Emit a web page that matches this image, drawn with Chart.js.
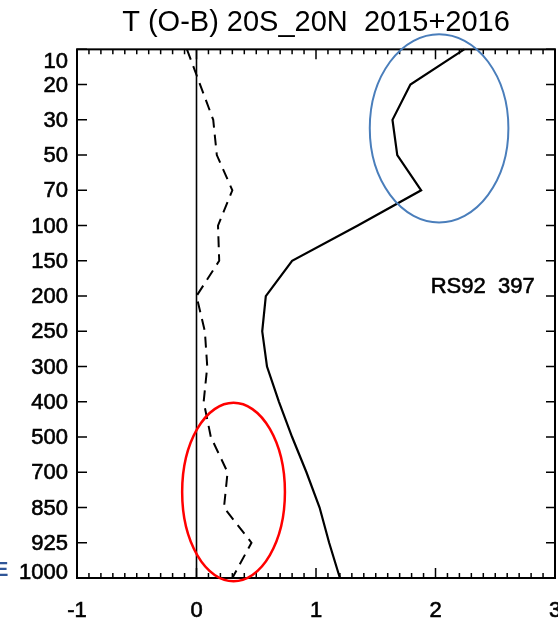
<!DOCTYPE html>
<html>
<head>
<meta charset="utf-8">
<script src="https://cdn.jsdelivr.net/npm/chart.js@4.4.1/dist/chart.umd.min.js"></script>
<style>
  html, body { margin: 0; padding: 0; background: #fff; overflow: hidden; }
  #wrap { width: 558px; height: 620px; }
  canvas { display: block; }
</style>
</head>
<body>
<div id="wrap"><canvas id="myChart"></canvas></div>
<script>
// niveles de presion (hPa), de arriba hacia abajo
const levels = ['10', '20', '30', '50', '70', '100', '150', '200', '250', '300', '400', '500', '700', '850', '925', '1000'];

// O-B temperatura, linea continua
const obSolid = [2.24, 1.79, 1.64, 1.68, 1.88, 1.35, 0.80, 0.58, 0.55, 0.59, 0.69, 0.80, 0.92, 1.03, 1.11, 1.20];
// O-B temperatura, linea discontinua
const obDashed = [-0.08, 0.03, 0.14, 0.17, 0.30, 0.18, 0.19, 0.00, 0.07, 0.09, 0.06, 0.12, 0.26, 0.23, 0.46, 0.30];

const xTicks = [-1, 0, 1, 2, 3];

const titleText = 'T (O-B) 20S_20N  2015+2016';
const noteText = 'RS92  397';

// elipses: centro (x, indice de nivel) y radios
const circles = [
    { cx: 2.03, cy: 2.24, rx: 0.58, ry: 2.67, color: '#4a7ebb', width: 2 },
    { cx: 0.31, cy: 12.56, rx: 0.43, ry: 2.53, color: '#ff0000', width: 2.5 }
];

const fontFamily = '"Liberation Sans", Arial, sans-serif';

const toPoints = (vals) => vals.map((v, i) => ({ x: v, y: levels[i] }));

// texto un poco mas grueso, como el de la grafica original
const drawText = (ctx, txt, x, y) => {
    ctx.fillText(txt, x, y);
    ctx.strokeText(txt, x, y);
};

// marco, ticks hacia adentro, etiquetas de nivel, texto y elipses
const framePlugin = {
    id: 'frame',
    afterDatasetsDraw(chart) {
        const ctx = chart.ctx;
        const a = chart.chartArea;
        const xs = chart.scales.x;
        const ys = chart.scales.y;
        ctx.save();
        ctx.strokeStyle = '#000';
        ctx.lineWidth = 2;
        ctx.strokeRect(a.left, a.top, a.right - a.left, a.bottom - a.top);

        // ticks del eje x (mayores cada 1, menores cada 0.1)
        ctx.lineWidth = 1.5;
        ctx.beginPath();
        for (let k = -10; k <= 30; k++) {
            const px = xs.getPixelForValue(k / 10);
            const len = (k % 10 === 0) ? 10 : 5;
            ctx.moveTo(px, a.bottom);
            ctx.lineTo(px, a.bottom - len);
            ctx.moveTo(px, a.top);
            ctx.lineTo(px, a.top + len);
        }
        // ticks del eje y
        levels.forEach((l, i) => {
            const py = ys.getPixelForValue(i);
            ctx.moveTo(a.left, py);
            ctx.lineTo(a.left + 10, py);
            ctx.moveTo(a.right, py);
            ctx.lineTo(a.right - 9, py);
        });
        ctx.stroke();

        // etiquetas de nivel, las de los extremos quedan dentro del marco
        ctx.fillStyle = '#000';
        ctx.strokeStyle = '#000';
        ctx.lineWidth = 0.6;
        ctx.font = '22px ' + fontFamily;
        ctx.textAlign = 'right';
        ctx.textBaseline = 'middle';
        levels.forEach((l, i) => {
            const py = Math.min(Math.max(ys.getPixelForValue(i), a.top + 12), a.bottom - 6);
            drawText(ctx, l, a.left - 9, py + 1);
        });

        drawText(ctx, noteText, xs.getPixelForValue(2.83), ys.getPixelForValue(6.75));

        // elipses
        circles.forEach(c => {
            const cx = xs.getPixelForValue(c.cx);
            const rx = xs.getPixelForValue(c.cx + c.rx) - cx;
            const cy = ys.getPixelForValue(c.cy);
            const ry = ys.getPixelForValue(c.cy + c.ry) - cy;
            ctx.beginPath();
            ctx.ellipse(cx, cy, rx, ry, 0, 0, Math.PI * 2);
            ctx.strokeStyle = c.color;
            ctx.lineWidth = c.width;
            ctx.stroke();
        });

        ctx.fillStyle = '#2f5597';
        ctx.font = 'bold 20px ' + fontFamily;
        ctx.textAlign = 'left';
        ctx.fillText('E', -5, ys.getPixelForValue(14.8));
        ctx.restore();
    }
};

const ctx = document.getElementById('myChart').getContext('2d');
const myChart = new Chart(ctx, {
    type: 'line',
    data: {
        datasets: [{
            label: 'O-B',
            data: toPoints(obSolid),
            borderColor: '#000',
            borderWidth: 2.2,
            pointRadius: 0,
            tension: 0
        }, {
            label: 'O-B dashed',
            data: toPoints(obDashed),
            borderColor: '#000',
            borderWidth: 2,
            borderDash: [11, 7],
            pointRadius: 0,
            tension: 0
        }, {
            label: 'zero',
            data: [{ x: 0, y: levels[0] }, { x: 0, y: levels[levels.length - 1] }],
            borderColor: '#000',
            borderWidth: 1.6,
            pointRadius: 0
        }]
    },
    options: {
        responsive: true,
        maintainAspectRatio: false,
        animation: false,
        indexAxis: 'y',
        layout: { padding: { left: 0, right: 3, top: 0, bottom: 0 } },
        plugins: {
            legend: { display: false },
            tooltip: { enabled: false },
            title: {
                display: true,
                text: titleText,
                fullSize: false,
                color: '#000',
                font: { family: fontFamily, size: 29, weight: 'normal', lineHeight: 1.15 },
                padding: { top: 6, bottom: 10 }
            }
        },
        scales: {
            x: {
                type: 'linear',
                min: -1,
                max: 3,
                afterBuildTicks: (scale) => { scale.ticks = xTicks.map(v => ({ value: v })); },
                afterFit: (scale) => {
                    scale.height = 42;
                    scale.paddingLeft = 0;
                    scale.paddingRight = 0;
                },
                grid: { display: false, drawTicks: false },
                border: { display: false },
                ticks: {
                    padding: 20,
                    color: '#000',
                    textStrokeColor: '#000',
                    textStrokeWidth: 0.6,
                    font: { family: fontFamily, size: 22 },
                    maxRotation: 0
                }
            },
            y: {
                type: 'category',
                labels: levels,
                offset: false,
                afterFit: (scale) => {
                    scale.width = 77;
                    scale.paddingTop = 0;
                    scale.paddingBottom = 0;
                },
                grid: { display: false, drawTicks: false },
                border: { display: false },
                ticks: { display: false }
            }
        }
    },
    plugins: [framePlugin]
});
</script>
</body>
</html>
